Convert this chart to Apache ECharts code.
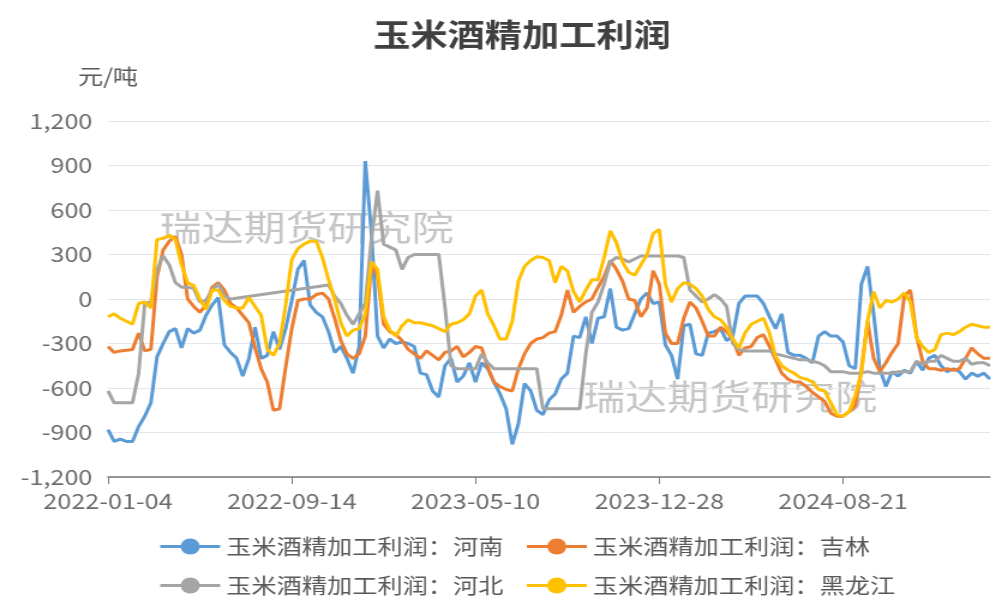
<!DOCTYPE html>
<html>
<head>
<meta charset="UTF-8" />
<title>玉米酒精加工利润</title>
<script src="https://cdn.jsdelivr.net/npm/echarts@6/dist/echarts.min.js"></script>
<style type="text/css">
body{
	margin: 0px;
	overflow: hidden;
	background: #fff;
}
/* the source picture is stretched sideways, so draw narrow and widen */
#chart{
	width: 826px;
	height: 600px;
	transform: scaleX(1.2);
	transform-origin: 0px 0px;
}
</style>
</head>
<body>
<div id="chart"></div>

<script type="text/javascript">

var tickDates = ['2022-01-04', '2022-09-14', '2023-05-10', '2023-12-28', '2024-08-21'];
var stepsPerTick = 30;

var seriesNames = ['玉米酒精加工利润：河南', '玉米酒精加工利润：吉林', '玉米酒精加工利润：河北', '玉米酒精加工利润：黑龙江'];
var colors = ['#5b9bd5', '#ed7d31', '#a5a5a5', '#ffc000'];

var henan = [-880,-960,-945,-960,-960,-860,-790,-700,-390,-300,
	-220,-200,-330,-200,-230,-210,-110,-40,10,-310,
	-360,-400,-520,-400,-190,-400,-380,-220,-340,-200,
	-10,200,260,-40,-90,-120,-220,-360,-320,-400,
	-500,-320,930,450,-250,-330,-270,-300,-290,-300,
	-320,-500,-510,-620,-660,-450,-400,-560,-520,-430,
	-560,-430,-470,-560,-640,-740,-980,-840,-570,-620,
	-750,-780,-680,-640,-540,-500,-250,-260,-120,-300,
	-130,-120,70,-190,-210,-200,-100,0,40,-30,
	-20,-310,-380,-540,-180,-170,-370,-380,-230,-220,
	-200,-280,-250,-30,20,20,20,-30,-120,-200,
	-100,-360,-380,-380,-400,-430,-250,-220,-250,-250,
	-290,-450,-470,100,220,-100,-470,-590,-490,-520,
	-480,-500,-420,-480,-400,-380,-450,-490,-470,-490,
	-540,-500,-520,-500,-540];

var jilin = [-320,-360,-350,-345,-340,-230,-350,-340,150,330,
	390,420,300,0,-50,-90,-40,80,110,60,
	-30,-60,-110,-160,-330,-470,-560,-750,-740,-460,
	-200,-10,0,0,30,40,0,-130,-280,-370,
	-400,-370,-250,230,160,-170,-220,-240,-280,-340,
	-370,-400,-350,-380,-410,-360,-350,-320,-390,-360,
	-320,-330,-460,-560,-590,-610,-620,-470,-370,-300,
	-270,-260,-230,-220,-110,60,-90,-50,-20,0,
	80,150,260,200,120,0,-10,-120,-60,190,
	100,-230,-300,-300,-130,-20,-60,-150,-250,-250,
	-190,-220,-270,-380,-330,-320,-260,-240,-320,-410,
	-500,-540,-560,-560,-590,-630,-660,-690,-770,-790,
	-790,-760,-720,-480,-150,-400,-490,-430,-360,-300,
	20,60,-250,-420,-470,-470,-480,-470,-480,-470,
	-400,-330,-370,-400,-400];

// 河北 has a gap in late 2022, the line is joined across it
var hebei = [-620,-700,-700,-700,-700,-500,-30,-20,200,290,
	230,110,80,80,70,-20,-10,60,100,20,
	0,null,null,null,null,null,null,null,null,null,
	null,null,null,null,null,null,95,20,-30,-110,
	-170,-100,-30,400,730,370,350,330,200,280,
	300,300,300,300,300,-50,-450,-470,-470,-470,
	-470,-370,-430,-470,-470,-470,-470,-470,-470,-470,
	-470,-740,-740,-740,-740,-740,-740,-740,-370,-90,
	-20,100,250,280,270,250,270,290,290,290,
	290,290,290,290,280,60,20,-20,0,30,
	0,-50,-300,-340,-350,-350,-350,-350,-350,-370,
	-380,-390,-400,-410,-410,-420,-430,-450,-490,-490,
	-490,-500,-500,-500,-490,-500,-500,-500,-500,-490,
	-490,-490,-420,-440,-420,-420,-380,-400,-420,-420,
	-400,-440,-430,-430,-450];

var heilongjiang = [-120,-100,-130,-150,-170,-30,-20,-60,400,410,
	430,400,230,110,90,0,-70,60,60,-10,
	-50,-60,-60,10,-50,-110,-340,-380,-300,-40,
	265,340,370,390,390,280,130,0,-160,-250,
	-210,-200,-100,250,200,-120,-210,-250,-180,-140,
	-160,-160,-170,-180,-200,-220,-170,-160,-140,-100,
	20,60,-100,-180,-270,-270,-150,120,220,260,
	285,280,260,110,220,190,50,-20,60,130,
	130,280,460,380,250,180,160,230,300,440,
	470,100,-20,70,110,100,70,20,-70,-120,
	-140,-190,-270,-330,-230,-170,-150,-130,-230,-390,
	-450,-480,-500,-530,-540,-560,-610,-620,-700,-780,
	-790,-760,-650,-500,-150,50,-60,-10,-20,0,
	40,-20,-260,-320,-360,-340,-240,-230,-240,-220,
	-190,-170,-180,-190,-190];

// category dates: the labelled dates fall every stepsPerTick points
function buildDates(count){
	var t = tickDates.map(function(d){ return Date.parse(d + 'T00:00:00Z'); });
	var out = [];
	for(var i = 0; i < count; i++){
		var seg = Math.min(Math.floor(i / stepsPerTick), t.length - 2);
		var frac = (i - seg * stepsPerTick) / stepsPerTick;
		var ms = t[seg] + (t[seg + 1] - t[seg]) * frac;
		out.push(new Date(Math.round(ms / 86400000) * 86400000).toISOString().slice(0, 10));
	}
	return out;
}

var dates = buildDates(henan.length);
var font = '"Noto Sans CJK SC", "Noto Sans", sans-serif';

function showTick(index){
	return index % stepsPerTick === 0;
}

function makeSeries(i, values){
	return {
		name: seriesNames[i],
		type: 'line',
		data: values,
		symbol: 'circle',
		showSymbol: false,
		connectNulls: true,
		smooth: false,
		lineStyle: { width: 3, color: colors[i] },
		itemStyle: { color: colors[i] }
	};
}

var option = {
	animation: false,
	color: colors,
	textStyle: { fontFamily: font },
	title: {
		text: '玉米酒精加工利润',
		left: 306,
		top: 14,
		textStyle: { fontSize: 31, fontWeight: 'bold', color: '#404040', fontFamily: font }
	},
	graphic: [
		{ type: 'text', left: 133, top: 210, z: -10, silent: true,
		  style: { text: '瑞达期货研究院', fontSize: 35, fontFamily: font, fill: 'rgba(150,150,150,0.55)' } },
		{ type: 'text', left: 486, top: 379, z: -10, silent: true,
		  style: { text: '瑞达期货研究院', fontSize: 35, fontFamily: font, fill: 'rgba(150,150,150,0.55)' } }
	],
	legend: {
		left: 127,
		top: 531,
		width: 620,
		itemWidth: 50,
		itemHeight: 20,
		itemGap: 18,
		lineStyle: { width: 3 },
		textStyle: { fontSize: 21, color: '#595959', fontFamily: font },
		data: seriesNames
	},
	grid: { left: 90, right: 1, top: 121, bottom: 123, containLabel: false },
	xAxis: [
		{
			type: 'category',
			data: dates,
			boundaryGap: false,
			axisLine: { show: false },
			axisTick: { show: false },
			axisLabel: { interval: showTick, fontSize: 21, color: '#6b6b6b', margin: 14, fontFamily: font }
		},
		{
			// zero line with its ticks
			type: 'category',
			data: dates,
			boundaryGap: false,
			position: 'bottom',
			axisLine: { onZero: true, lineStyle: { color: '#7a7a7a', width: 1.5 } },
			axisTick: { interval: showTick, length: 7, lineStyle: { color: '#7a7a7a' } },
			axisLabel: { show: false }
		}
	],
	yAxis: {
		type: 'value',
		min: -1200,
		max: 1200,
		interval: 300,
		name: '元/吨',
		nameLocation: 'end',
		nameGap: 34,
		nameTextStyle: { fontSize: 21, color: '#595959', fontFamily: font },
		axisLine: { show: false },
		axisTick: { show: false },
		axisLabel: { fontSize: 21, color: '#6b6b6b', margin: 13, fontFamily: font },
		splitLine: { lineStyle: { color: '#e3e6ef', width: 1 } }
	},
	series: [
		makeSeries(0, henan),
		makeSeries(1, jilin),
		makeSeries(2, hebei),
		makeSeries(3, heilongjiang)
	]
};

var myChart = echarts.init(document.getElementById('chart'));
myChart.setOption(option);

</script>
</body>
</html>
